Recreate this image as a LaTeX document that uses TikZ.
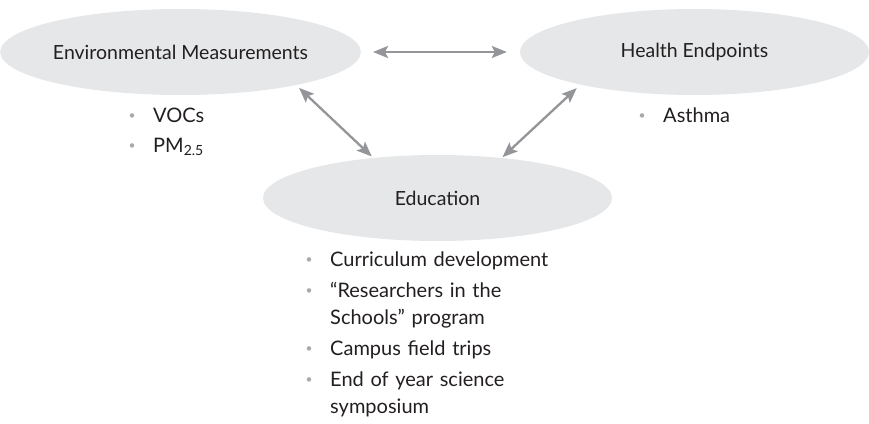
\documentclass[tikz,border=0pt]{standalone}
\usepackage{fontspec}
\setmainfont{Lato}
\usepackage{xcolor}
\usetikzlibrary{shapes.geometric, arrows.meta, positioning}

\definecolor{ovalgray}{HTML}{E6E7E8}
\definecolor{arrowgray}{HTML}{939598}
\definecolor{textgray}{HTML}{231F20}
\definecolor{dotgray}{HTML}{A7A9AC}

% bullet placed left of the item text
\newcommand{\dotitem}{\leavevmode\llap{\makebox[42pt][c]{\raisebox{2.5pt}{\fontsize{12pt}{12pt}\selectfont\color{dotgray}\textbullet}}}}

\begin{document}
\begin{tikzpicture}[
    x=1pt, y=-1pt,
    oval/.style={ellipse, fill=ovalgray, inner sep=0pt, minimum width=349pt, minimum height=86pt, text=textgray, font=\fontsize{19.5pt}{23pt}\selectfont},
    itemlist/.style={anchor=base west, inner sep=0pt, align=left, text=textgray, font=\fontsize{20pt}{27pt}\selectfont},
    link/.style={draw=arrowgray, line width=2.3pt, {Stealth[length=15pt,width=12pt,inset=3pt]}-{Stealth[length=15pt,width=12pt,inset=3pt]}}
]
\useasboundingbox (0,0) rectangle (869,423);

% Ovals
\node[oval] (env) at (180.5,52) {Environmental Measurements};
\node[oval] (health) at (694.5,52) {Health Endpoints};
\node[oval] (edu) at (437.5,198) {Education};

% Bullet lists
\node[itemlist, text width=150pt] (envlist) at (153,122)
    {\dotitem VOCs\\[3pt]\dotitem PM\textsubscript{2.5}};
\node[itemlist, text width=150pt] (healthlist) at (663,122)
    {\dotitem Asthma};
\node[itemlist, text width=240pt] (edulist) at (330,266)
    {\dotitem Curriculum development\\[4pt]
     \dotitem ``Researchers in the\\
     Schools'' program\\[4pt]
     \dotitem Campus field trips\\[4pt]
     \dotitem End of year science\\
     symposium};

% Arrows
\draw[link, shorten <=12pt, shorten >=13pt] (env.east) -- (health.west);
\draw[link, shorten <=4pt, shorten >=2pt] (env.-16.6) -- (edu.148.7);
\draw[link, shorten <=1pt, shorten >=5pt] (edu.32.6) -- (health.196);

\end{tikzpicture}
\end{document}
